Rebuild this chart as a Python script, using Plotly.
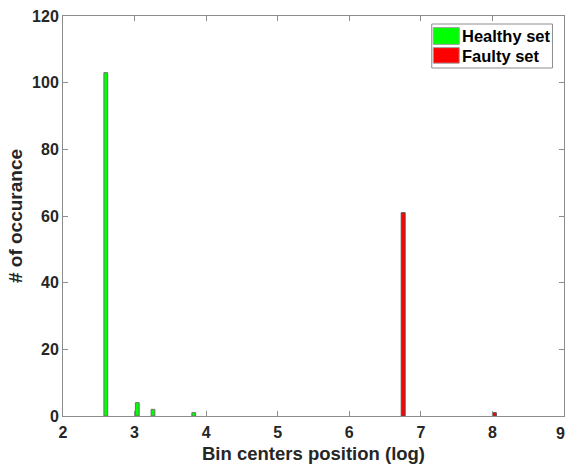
import plotly.graph_objects as go

healthy_x = [2.598, 3.038, 3.257, 3.827]
healthy_y = [103, 4, 2, 1]
faulty_x = [6.753, 8.027]
faulty_y = [61, 1]
x_ticks = [2, 3, 4, 5, 6, 7, 8, 9]
y_ticks = [0, 20, 40, 60, 80, 100, 120]
series_names = ["Healthy set", "Faulty set"]
series_colors = ["#00ff00", "#ff0000"]
x_title = "Bin centers position (log)"
y_title = "# of occurance"

FONT = "Liberation Sans"
TICKFONT = dict(family=FONT, size=16, color="#262626", weight="bold")
fig = go.Figure()
fig.add_trace(go.Bar(x=healthy_x, y=healthy_y, width=0.053, name=series_names[0],
                     marker=dict(color=series_colors[0], line=dict(color="#707070", width=1))))
fig.add_trace(go.Bar(x=faulty_x, y=faulty_y, width=0.055, name=series_names[1],
                     marker=dict(color=series_colors[1], line=dict(color="#505050", width=1))))

axis_common = dict(showgrid=False, zeroline=False, showline=True, linecolor="#8c8c8c",
                   linewidth=1, mirror="ticks", ticks="inside", ticklen=5, tickcolor="#8c8c8c",
                   automargin=False, tickfont=TICKFONT)
fig.update_xaxes(range=[2, 9], tickvals=x_ticks, ticklabelstandoff=2, **axis_common)
fig.update_yaxes(range=[0, 120], tickvals=y_ticks,
                 title=dict(text=y_title, standoff=4,
                            font=dict(family=FONT, size=19, color="#262626", weight="bold")),
                 **axis_common)

# last x tick label sits on the figure edge; plotly drops it, so draw it as text
fig.add_annotation(xref="x", yref="paper", x=x_ticks[-1], y=0, yshift=-7, xshift=-4,
                   xanchor="center", yanchor="top", showarrow=False,
                   text=str(x_ticks[-1]), font=TICKFONT)

fig.add_annotation(xref="paper", yref="paper", x=0.5, y=0, yshift=-37, xanchor="center",
                   yanchor="middle", showarrow=False, text=x_title,
                   font=dict(family=FONT, size=18.5, color="#262626", weight="bold"))

# legend drawn as box + swatches + text (paper coordinates)
fig.add_shape(type="rect", xref="paper", yref="paper", x0=0.736, x1=0.977, y0=0.87, y1=0.98,
              line=dict(color="#8c8c8c", width=1), fillcolor="white", layer="above")
sw_y = [(0.971, 0.929), (0.921, 0.882)]
txt_y = [0.950, 0.901]
for i in range(2):
    fig.add_shape(type="rect", xref="paper", yref="paper", x0=0.739, x1=0.791,
                  y0=sw_y[i][1], y1=sw_y[i][0],
                  line=dict(color="#a0a0a0", width=1), fillcolor=series_colors[i], layer="above")
    fig.add_annotation(xref="paper", yref="paper", x=0.792, y=txt_y[i], xanchor="left",
                       yanchor="middle", showarrow=False, text=series_names[i],
                       font=dict(family=FONT, size=16.5, color="#000000", weight="bold"))

fig.update_layout(width=566, height=471, margin=dict(l=63, r=2, t=16, b=55),
                  plot_bgcolor="white", paper_bgcolor="white", barmode="overlay",
                  showlegend=False)
fig.write_html("out.html", config={"displayModeBar": False},
               post_script="document.body.style.margin='0';")
